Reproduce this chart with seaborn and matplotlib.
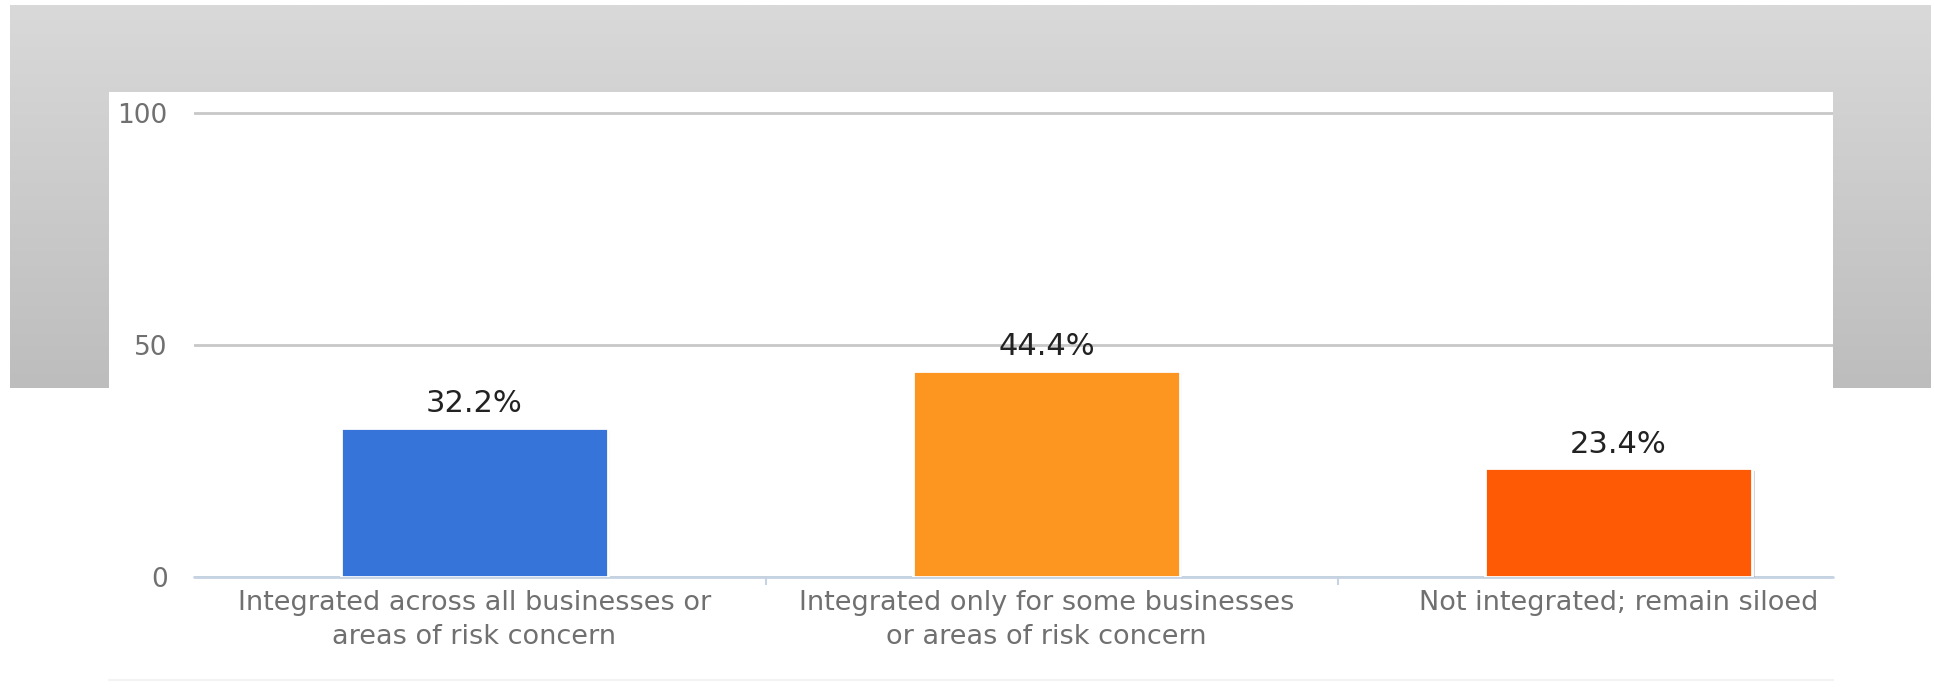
import numpy as np
import pandas as pd
import matplotlib
matplotlib.use("Agg")
import matplotlib.pyplot as plt
import seaborn as sns
from matplotlib import patheffects as pe
from matplotlib.patches import Rectangle
from matplotlib.colors import LinearSegmentedColormap

# data
categories = ["Integrated across all businesses or\nareas of risk concern",
              "Integrated only for some businesses\nor areas of risk concern",
              "Not integrated; remain siloed"]
values = [32.2, 44.4, 23.4]
bar_colors = ["#3674D9", "#FC9620", "#FE5A05"]
y_ticks = [0, 50, 100]

sns.set_style("white")
plt.rcParams['font.family'] = ['DejaVu Sans']

W, H = 1934, 700
fig = plt.figure(figsize=(W / 100, H / 100), dpi=100)
fig.patch.set_facecolor("white")

# gray frame + white panel behind the chart
bg = fig.add_axes([0, 0, 1, 1])
grad = np.linspace(0, 1, 256).reshape(-1, 1)
cmap = LinearSegmentedColormap.from_list("frame", ["#d9d9d9", "#bdbdbd"])
bg.imshow(grad, extent=(10, 1931, 388, 5), cmap=cmap, aspect="auto")
bg.add_patch(Rectangle((109, 92), 1724, 588, facecolor="white", edgecolor="none"))
bg.plot([109, 1833], [680, 680], color="#f3f3f3", lw=1.5)
bg.set_xlim(0, W)
bg.set_ylim(H, 0)
bg.axis("off")

# main chart axes: 0 at y=577px, 4.64 px per unit
ymax = 101
px_per_unit = 4.64
y0 = 577
left, right = 194, 1833
ax = fig.add_axes([left / W, 1 - y0 / H, (right - left) / W, px_per_unit * ymax / H])
ax.patch.set_alpha(0)

df = pd.DataFrame({"category": categories, "value": values})
sns.barplot(data=df, x="category", y="value", hue="category", palette=bar_colors,
            saturation=1, legend=False, width=0.466, ax=ax, zorder=3,
            edgecolor="white", linewidth=2)

for patch in ax.patches:
    patch.set_path_effects([pe.SimplePatchShadow(offset=(2, -2), shadow_rgbFace="#888888", alpha=0.35),
                            pe.Normal()])

for cont in ax.containers:
    ax.bar_label(cont, labels=[f"{v}%" for v in cont.datavalues], padding=7,
                 fontsize=22, color="#222222")

ax.set_xlim(-0.49, 2.375)
ax.set_ylim(0, ymax)
ax.set_yticks(y_ticks)
ax.yaxis.grid(True, color="#c8c8c8", lw=2)
ax.set_axisbelow(True)
for s in ax.spines.values():
    s.set_visible(False)

# baseline and category separators
ax.axhline(0, color="#c5d3e3", lw=2, clip_on=False, zorder=2)
ax.vlines([0.51, 1.51], -1.8, 0, color="#c5d3e3", lw=1.5, clip_on=False)

ax.set_xlabel("")
ax.set_ylabel("")
ax.tick_params(axis="x", length=0, pad=9, labelsize=19.5, labelcolor="#707070")
ax.tick_params(axis="y", length=0, pad=19, labelsize=19, labelcolor="#707070")
for lbl in ax.get_xticklabels():
    lbl.set_linespacing(1.45)

fig.savefig("out.png", dpi=100, facecolor="white")
